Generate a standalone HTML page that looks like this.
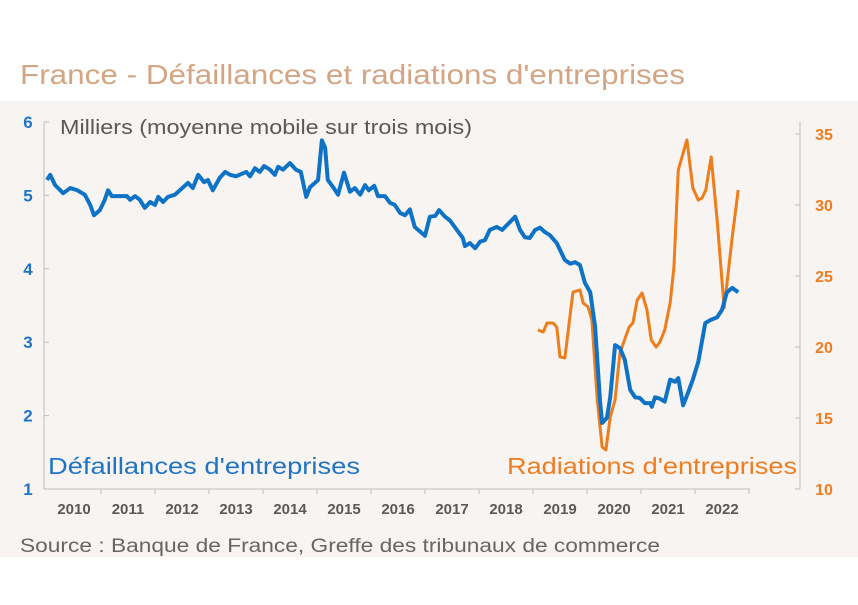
<!DOCTYPE html>
<html><head><meta charset="utf-8"><style>
body{margin:0;width:858px;height:600px;background:#fff;font-family:"Liberation Sans",sans-serif;overflow:hidden}
</style></head><body>
<svg width="858" height="600" xmlns="http://www.w3.org/2000/svg">
<rect x="0" y="101" width="858" height="456" fill="#f8f4f1"/>
<text x="20" y="84" font-size="28" fill="#d3a584" textLength="665" lengthAdjust="spacingAndGlyphs">France - Défaillances et radiations d'entreprises</text>
<text x="60" y="134" font-size="20" fill="#595959" textLength="412" lengthAdjust="spacingAndGlyphs">Milliers (moyenne mobile sur trois mois)</text>
<g id="axes"></g>
<g id="series"></g>
<text x="48" y="474" font-size="23" fill="#1f74c6" textLength="312" lengthAdjust="spacingAndGlyphs">Défaillances d'entreprises</text>
<text x="507" y="474" font-size="23" fill="#ee7d22" textLength="290" lengthAdjust="spacingAndGlyphs">Radiations d'entreprises</text>
<text x="20" y="552" font-size="19" fill="#666" textLength="640" lengthAdjust="spacingAndGlyphs">Source : Banque de France, Greffe des tribunaux de commerce</text>
</svg>
<script>
const years=[2010,2011,2012,2013,2014,2015,2016,2017,2018,2019,2020,2021,2022];
const leftTicks=[1,2,3,4,5,6];
const rightTicks=[10,15,20,25,30,35];
const blueDates=[2010.00,2010.06,2010.15,2010.30,2010.43,2010.56,2010.70,2010.80,2010.87,2010.98,2011.07,2011.13,2011.20,2011.48,2011.54,2011.63,2011.72,2011.81,2011.91,2012.00,2012.06,2012.15,2012.24,2012.37,2012.46,2012.61,2012.70,2012.80,2012.91,2012.98,2013.07,2013.20,2013.30,2013.39,2013.50,2013.69,2013.76,2013.85,2013.94,2014.02,2014.13,2014.22,2014.28,2014.37,2014.50,2014.61,2014.70,2014.80,2014.87,2015.02,2015.09,2015.15,2015.20,2015.30,2015.39,2015.50,2015.61,2015.70,2015.80,2015.89,2015.96,2016.06,2016.13,2016.26,2016.35,2016.44,2016.54,2016.63,2016.72,2016.81,2017.00,2017.09,2017.19,2017.26,2017.37,2017.46,2017.59,2017.70,2017.74,2017.83,2017.93,2018.02,2018.11,2018.20,2018.33,2018.43,2018.67,2018.76,2018.85,2018.94,2019.04,2019.13,2019.22,2019.31,2019.44,2019.59,2019.69,2019.78,2019.87,2019.96,2020.06,2020.15,2020.24,2020.28,2020.37,2020.43,2020.52,2020.61,2020.70,2020.80,2020.89,2020.98,2021.07,2021.17,2021.20,2021.26,2021.35,2021.44,2021.54,2021.63,2021.69,2021.78,2021.87,2021.96,2022.06,2022.19,2022.28,2022.41,2022.50,2022.59,2022.69,2022.80];
const blueValues=[5.21,5.28,5.14,5.03,5.10,5.07,5.01,4.87,4.73,4.80,4.94,5.07,4.99,4.99,4.94,4.99,4.94,4.83,4.91,4.87,4.98,4.91,4.98,5.01,5.07,5.17,5.10,5.28,5.18,5.21,5.07,5.24,5.32,5.28,5.26,5.32,5.26,5.37,5.32,5.40,5.35,5.28,5.39,5.35,5.44,5.35,5.32,4.98,5.11,5.21,5.75,5.65,5.21,5.11,5.01,5.31,5.05,5.10,5.01,5.14,5.07,5.13,4.99,4.99,4.90,4.87,4.76,4.73,4.81,4.57,4.45,4.71,4.72,4.80,4.71,4.66,4.53,4.42,4.31,4.35,4.28,4.37,4.39,4.53,4.57,4.53,4.71,4.53,4.43,4.42,4.53,4.56,4.50,4.46,4.35,4.12,4.07,4.09,4.05,3.81,3.68,3.21,2.21,1.90,1.97,2.25,2.96,2.92,2.76,2.35,2.25,2.24,2.17,2.17,2.12,2.25,2.23,2.19,2.49,2.46,2.51,2.14,2.31,2.49,2.73,3.26,3.30,3.34,3.44,3.68,3.74,3.68];
const orangeDates=[2019.09,2019.19,2019.26,2019.37,2019.44,2019.50,2019.59,2019.74,2019.87,2019.93,2020.02,2020.09,2020.19,2020.28,2020.35,2020.43,2020.52,2020.61,2020.78,2020.85,2020.93,2021.02,2021.11,2021.19,2021.28,2021.35,2021.44,2021.54,2021.61,2021.69,2021.85,2021.96,2022.06,2022.13,2022.20,2022.30,2022.41,2022.54,2022.69,2022.80];
const orangeValues=[21.20,21.06,21.69,21.69,21.41,19.30,19.23,23.87,24.01,23.10,22.82,21.90,16.27,12.96,12.75,15.07,16.27,19.58,21.41,21.69,23.31,23.80,22.61,20.49,20.00,20.35,21.20,23.10,25.63,32.46,34.58,31.20,30.35,30.49,31.06,33.38,28.94,22.75,27.75,31.06];

const NS="http://www.w3.org/2000/svg";
const X=t=>47+(t-2010)*54;
const YL=v=>489-(v-1)*73.4;
const YR=v=>489-(v-10)*14.2;
const axes=document.getElementById('axes'),series=document.getElementById('series');
function mk(tag,attrs,parent){const e=document.createElementNS(NS,tag);for(const k in attrs)e.setAttribute(k,attrs[k]);parent.appendChild(e);return e;}

let e=mk('line',{x1:44,y1:122,x2:44,y2:489,stroke:'#bfbfbf','stroke-width':1},axes);


e=mk('line',{x1:800,y1:122,x2:800,y2:489,stroke:'#bfbfbf','stroke-width':1},axes);


e=mk('line',{x1:44,y1:489,x2:750,y2:489,stroke:'#bfbfbf','stroke-width':1},axes);



leftTicks.forEach(v=>{
  const t=mk('text',{x:28,y:YL(v)+6,'font-size':17,'font-weight':'bold',fill:'#1f74c6','text-anchor':'middle'},axes);
  t.textContent=v;
  
  
  const l=mk('line',{x1:44,y1:YL(v),x2:49,y2:YL(v),stroke:'#bfbfbf'},axes);
  
  
});
rightTicks.forEach(v=>{
  const t=mk('text',{x:824,y:YR(v)+6,'font-size':16,'font-weight':'bold',fill:'#ee7d22','text-anchor':'middle'},axes);
  t.textContent=v;
  
  
  const l=mk('line',{x1:795,y1:YR(v),x2:800,y2:YR(v),stroke:'#bfbfbf'},axes);
  
  
});
years.forEach(y=>{
  const t=mk('text',{x:X(y+0.5),y:514,'font-size':15,'font-weight':'bold',fill:'#595959','text-anchor':'middle'},axes);
  t.textContent=y;
  
  
  const l=mk('line',{x1:X(y+1),y1:489,x2:X(y+1),y2:494,stroke:'#bfbfbf'},axes);
  
  
});

const op=mk('polyline',{points:orangeDates.map((d,i)=>X(d)+','+YR(orangeValues[i])).join(' '),fill:'none',stroke:'#ee7d1c','stroke-width':3,'stroke-linejoin':'round'},series);


const bp=mk('polyline',{points:blueDates.map((d,i)=>X(d)+','+YL(blueValues[i])).join(' '),fill:'none',stroke:'#0e72c6','stroke-width':4,'stroke-linejoin':'round'},series);


</script>
</body></html>
